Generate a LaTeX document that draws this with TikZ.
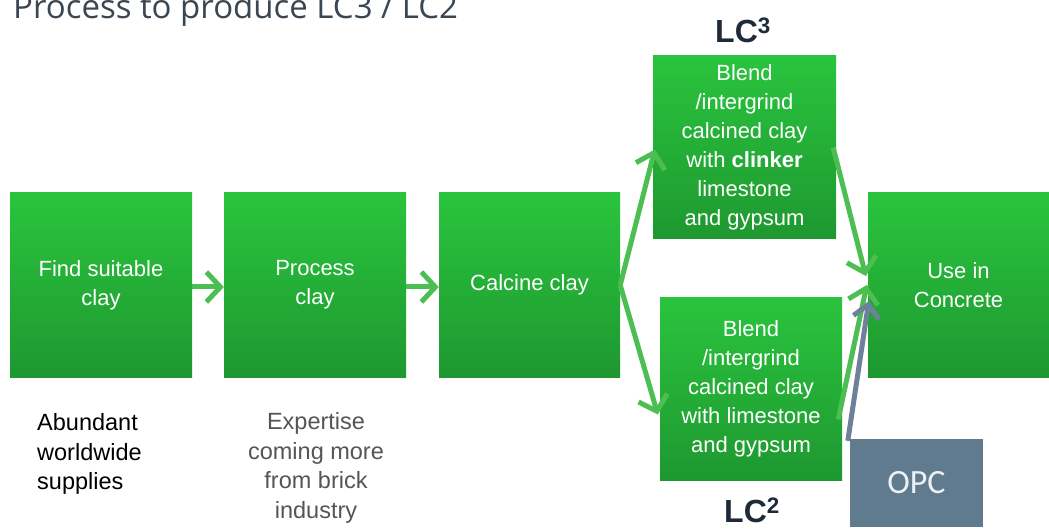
\documentclass[tikz,border=0pt]{standalone}
\usepackage{fontspec}
\setmainfont{Liberation Sans}
\newfontfamily\titlefont{Open Sans}
\newfontfamily\opcfont{Carlito}
\usetikzlibrary{arrows.meta}
\definecolor{gtop}{RGB}{42,196,62}
\definecolor{gbot}{RGB}{30,152,48}
\definecolor{agreen}{RGB}{76,190,82}
\definecolor{agray}{RGB}{111,128,155}
\definecolor{opcfill}{RGB}{96,122,142}
\definecolor{titlecol}{RGB}{58,70,82}
\definecolor{lccol}{RGB}{30,42,56}
\definecolor{expcol}{RGB}{85,85,85}
\tikzset{
  greenbox/.style={rectangle, inner sep=0pt, top color=gtop, bottom color=gbot, draw=none,
    text=white, align=center, font=\fontsize{22}{29}\selectfont},
  garrow/.style={draw=agreen, line width=5pt, -{Straight Barb[length=14pt,width=30pt]}},
  grayarrow/.style={draw=agray, line width=5pt, -{Straight Barb[length=13pt,width=26pt]}},
  lclabel/.style={font=\bfseries\fontsize{32}{36}\selectfont, text=lccol, inner sep=0pt},
  note/.style={font=\fontsize{23.5}{29.5}\selectfont, inner sep=0pt}
}
\begin{document}
\begin{tikzpicture}[x=1pt,y=-1pt]
\useasboundingbox (0,0) rectangle (1049,529);
\fill[white] (0,0) rectangle (1049,529);
% title
\node[anchor=base west, inner sep=0pt, text=titlecol, font=\titlefont\fontsize{33}{40}\selectfont] (title) at (13,19) {Process to produce LC3 / LC2};
% boxes
\node[greenbox, minimum width=182pt, minimum height=184pt] (find) at (101,285) {Find suitable\\clay};
\node[greenbox, minimum width=182pt, minimum height=184pt] (proc) at (315,285) {Process\\clay};
\node[greenbox, minimum width=181pt, minimum height=184pt] (calc) at (529.5,285) {Calcine clay};
\node[greenbox, minimum width=183pt, minimum height=183pt] (lc3) at (744.5,147.5) {Blend\\/intergrind\\calcined clay\\with \textbf{clinker}\\limestone\\and gypsum};
\node[greenbox, minimum width=182pt, minimum height=183pt] (lc2) at (751,388.5) {Blend\\/intergrind\\calcined clay\\with limestone\\and gypsum};
\node[greenbox, minimum width=181pt, minimum height=184pt] (use) at (958.5,285) {Use in\\Concrete};
\node[rectangle, inner sep=0pt, fill=opcfill, minimum width=133pt, minimum height=88pt, text={rgb,255:red,236;green,241;blue,245}, font=\opcfont\fontsize{34}{40}\selectfont] (opc) at (916.5,483) {OPC};
% labels
\node[lclabel] (lc3l) at (743,30) {LC\textsuperscript{3}};
\node[lclabel] (lc2l) at (752,510) {LC\textsuperscript{2}};
\node[note, anchor=west, align=left] (abund) at (37,454) {Abundant\\worldwide\\supplies};
\node[note, align=center, text=expcol] (exp) at (316,468) {Expertise\\coming more\\from brick\\industry};
% arrows
\draw[garrow] ([yshift=-2pt]find.east) -- ([yshift=-2pt]proc.west);
\draw[garrow] ([yshift=-2pt]proc.east) -- ([yshift=-2pt]calc.west);
\draw[garrow] (calc.east) -- ([xshift=2pt,yshift=-2pt]lc3.west);
\draw[garrow] (calc.east) -- ([xshift=-2pt,yshift=-26pt]lc2.west);
\draw[garrow] ([xshift=-3pt]lc3.east) -- ([xshift=-2pt,yshift=9pt]use.west);
\draw[garrow] ([xshift=-4pt,yshift=-31pt]lc2.east) -- ([xshift=-1pt]use.west);
\draw[grayarrow] ([xshift=-2pt,yshift=-2pt]opc.north west) -- ([xshift=1pt,yshift=-16pt]use.west);
\end{tikzpicture}
\end{document}
